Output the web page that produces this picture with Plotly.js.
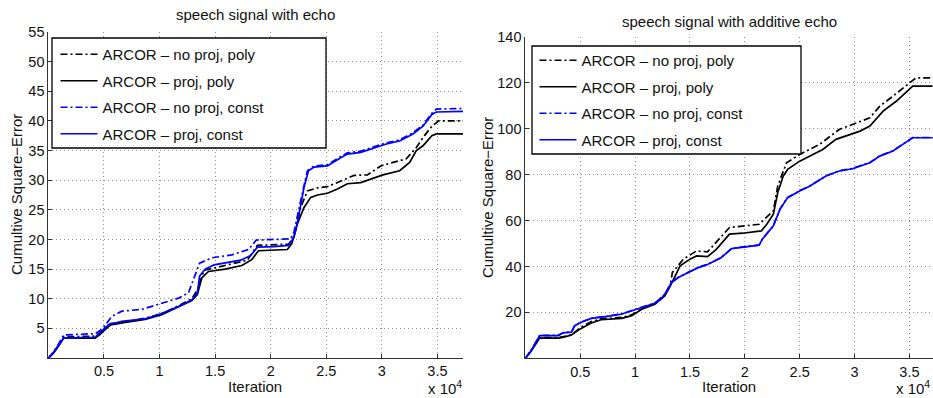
<!DOCTYPE html>
<html>
<head>
<meta charset="utf-8">
<script src="https://cdn.plot.ly/plotly-3.0.1.min.js"></script>
<style>html,body{margin:0;padding:0;background:#fff}#chart{width:933px;height:398px}</style>
</head>
<body>
<div id="chart"></div>
<script>
// ---------- data : left panel "speech signal with echo" ----------
const seriesNames = ["ARCOR \u2013 no proj, poly", "ARCOR \u2013 proj, poly", "ARCOR \u2013 no proj, const", "ARCOR \u2013 proj, const"];
const xTickVals = [5000, 10000, 15000, 20000, 25000, 30000, 35000];
const xTickText = ["0.5", "1", "1.5", "2", "2.5", "3", "3.5"];
const leftYTicks = [5, 10, 15, 20, 25, 30, 35, 40, 45, 50, 55];
const rightYTicks = [20, 40, 60, 80, 100, 120, 140];

const leftNoProjPolyX = [0, 400, 800, 1200, 1380, 2500, 4200, 4800, 5100, 5600, 6900, 8700, 10200, 11700, 12900, 13400, 13800, 14000, 16100, 17900, 18800, 21600, 22100, 22700, 23300, 24200, 25100, 26300, 27500, 28700, 29900, 31000, 32200, 33100, 33700, 34500, 35100, 37300];
const leftNoProjPolyY = [0, 0.8, 1.8, 3.0, 3.6, 3.6, 3.7, 4.5, 5.1, 5.8, 6.1, 6.7, 7.5, 8.8, 10.0, 11.5, 13.7, 14.8, 15.7, 16.5, 19.0, 19.2, 20.4, 25.4, 28.2, 28.7, 28.9, 29.9, 30.8, 30.9, 32.4, 33.0, 33.6, 35.5, 37.2, 39.1, 40.0, 40.0];

const leftProjPolyX = [0, 400, 800, 1200, 1380, 4200, 4600, 5100, 5600, 6900, 8700, 10200, 11700, 12900, 13400, 13800, 14400, 15900, 17400, 18300, 18900, 21500, 21900, 22400, 23000, 23600, 24200, 25100, 26000, 26900, 28100, 29300, 30100, 31600, 32500, 33100, 33700, 34500, 34900, 37300];
const leftProjPolyY = [0, 0.7, 1.7, 2.9, 3.37, 3.37, 3.9, 4.8, 5.6, 6.0, 6.5, 7.3, 8.6, 9.7, 10.7, 13.5, 14.6, 15.0, 15.6, 16.6, 18.1, 18.3, 19.3, 22.6, 25.4, 27.1, 27.5, 27.8, 28.5, 29.4, 29.6, 30.4, 30.9, 31.6, 33.0, 35.0, 35.8, 37.5, 37.8, 37.8];

const leftNoProjConstX = [0, 400, 800, 1200, 1380, 4200, 4800, 5700, 6600, 8400, 10200, 11700, 12600, 13200, 13600, 14700, 16500, 18000, 18700, 21800, 22100, 22700, 23300, 23900, 25100, 26300, 26900, 28100, 29300, 30400, 31600, 32800, 33700, 34500, 34900, 37300];
const leftNoProjConstY = [0, 0.9, 2.0, 3.3, 3.9, 4.1, 4.8, 7.0, 7.9, 8.2, 9.3, 10.1, 11.0, 13.8, 16.0, 16.9, 17.4, 18.3, 19.9, 20.1, 21.3, 26.6, 31.6, 32.4, 32.6, 34.0, 34.6, 34.9, 35.7, 36.3, 36.8, 38.0, 39.3, 41.3, 42.0, 42.1];

const leftProjConstX = [0, 400, 800, 1200, 1380, 4200, 5000, 5400, 6600, 8700, 9900, 11700, 12900, 13400, 13600, 14100, 14900, 16100, 17300, 18200, 18800, 20300, 21600, 22100, 22500, 23000, 23400, 23900, 25100, 26300, 26900, 28100, 29300, 30400, 31600, 32800, 33700, 34500, 34900, 37300];
const leftProjConstY = [0, 0.8, 1.9, 3.0, 3.37, 3.5, 4.8, 5.6, 6.2, 6.6, 7.3, 8.7, 9.8, 11.0, 13.8, 15.0, 15.7, 16.1, 16.5, 17.3, 18.7, 18.8, 19.0, 20.4, 23.8, 28.8, 31.6, 32.2, 32.4, 33.8, 34.4, 34.7, 35.5, 36.1, 36.6, 37.8, 39.1, 41.1, 41.5, 41.6];

// ---------- data : right panel "speech signal with additive echo" ----------
const rightNoProjPolyX = [0, 700, 1300, 3000, 3500, 4200, 5000, 6000, 6900, 8800, 9700, 10600, 11800, 12700, 13200, 13400, 14400, 15600, 16600, 18600, 21300, 22600, 23000, 23800, 25000, 26800, 28600, 30100, 31400, 32300, 33500, 35000, 35600, 37100];
const rightNoProjPolyY = [0, 4.6, 9.0, 9.0, 9.5, 10.2, 13.3, 16.0, 17.2, 17.8, 19.0, 21.6, 24.0, 27.8, 32.0, 37.4, 43.2, 46.8, 46.4, 57.0, 58.4, 64.2, 75.1, 85.2, 88.8, 93.2, 99.7, 102.6, 104.8, 109.9, 114.2, 120.0, 122.2, 122.2];

const rightProjPolyX = [0, 700, 1300, 3000, 3500, 4200, 5000, 6000, 6900, 8800, 9700, 10600, 11800, 12700, 13200, 13500, 14100, 15000, 15600, 16600, 17400, 18600, 19800, 21500, 22000, 22600, 23000, 23500, 23900, 25000, 25900, 27100, 28300, 29500, 30500, 31400, 32600, 33800, 35300, 37100];
const rightProjPolyY = [0, 4.4, 8.8, 8.8, 9.2, 10.2, 12.8, 15.4, 16.8, 17.4, 18.6, 21.4, 23.6, 27.2, 31.5, 34.5, 40.3, 43.2, 44.6, 44.3, 47.5, 54.1, 54.5, 55.5, 58.4, 62.8, 72.2, 79.4, 82.3, 85.9, 88.1, 91.0, 95.4, 97.5, 99.0, 101.2, 107.7, 112.0, 118.6, 118.6];

const rightNoProjConstX = [0, 500, 700, 1300, 3000, 3450, 4200, 4500, 5100, 6000, 7500, 8800, 9700, 10600, 11800, 12400, 12800, 13300, 13900, 14800, 15700, 16600, 17800, 18800, 21300, 21600, 22600, 23200, 23900, 25000, 25900, 27400, 28600, 29800, 31400, 32300, 33500, 34400, 35300, 37100];
const rightNoProjConstY = [0, 3.1, 5.0, 10.0, 10.0, 11.2, 11.5, 14.3, 15.8, 17.5, 18.4, 19.4, 20.8, 22.3, 24.1, 26.1, 28.7, 33.0, 35.2, 37.4, 39.5, 41.0, 43.8, 47.9, 49.4, 52.0, 57.8, 65.0, 70.1, 73.0, 75.1, 79.5, 81.7, 82.7, 85.3, 88.2, 90.4, 93.3, 96.2, 96.2];

const rightProjConstX = [0, 500, 700, 1300, 3000, 3450, 4200, 4500, 5100, 6000, 7500, 8800, 9700, 10600, 11800, 12400, 12800, 13300, 13900, 14800, 15700, 16600, 17800, 18800, 21300, 21600, 22600, 23200, 23900, 25000, 25900, 27400, 28600, 29800, 31400, 32300, 33500, 34400, 35300, 37100];
const rightProjConstY = [0, 3.0, 4.9, 9.9, 9.9, 11.1, 11.4, 14.2, 15.7, 17.4, 18.3, 19.3, 20.7, 22.2, 24.0, 26.0, 28.6, 32.9, 35.1, 37.3, 39.4, 40.9, 43.7, 47.8, 49.3, 51.9, 57.7, 64.9, 70.0, 72.9, 75.0, 79.4, 81.6, 82.6, 85.2, 88.1, 90.3, 93.2, 96.1, 96.1];

// ---------- styling ----------
const W = 933, H = 398;
const FONT = "Liberation Sans, Arial, Helvetica, sans-serif";
const DASHDOT = "7px,3px,2px,3px";
const styles = [
  {color: "#000000", dash: DASHDOT},
  {color: "#000000", dash: "solid"},
  {color: "#0000ff", dash: DASHDOT},
  {color: "#0000ff", dash: "solid"}
];
const px = v => v / W, py = v => 1 - v / H;

function mk(x, y, i, side) {
  return {
    x: x, y: y, type: "scatter", mode: "lines", name: seriesNames[i],
    line: {color: styles[i].color, dash: styles[i].dash, width: 1.7},
    xaxis: side === 0 ? "x" : "x2", yaxis: side === 0 ? "y" : "y2",
    legend: side === 0 ? "legend" : "legend2",
    legendgroup: "g" + side + "_" + i, showlegend: true
  };
}
const data = [
  mk(leftNoProjPolyX, leftNoProjPolyY, 0, 0),
  mk(leftProjPolyX, leftProjPolyY, 1, 0),
  mk(leftNoProjConstX, leftNoProjConstY, 2, 0),
  mk(leftProjConstX, leftProjConstY, 3, 0),
  mk(rightNoProjPolyX, rightNoProjPolyY, 0, 1),
  mk(rightProjPolyX, rightProjPolyY, 1, 1),
  mk(rightNoProjConstX, rightNoProjConstY, 2, 1),
  mk(rightProjConstX, rightProjConstY, 3, 1)
];

const axCommon = {
  showline: true, linecolor: "#333", linewidth: 1, mirror: false,
  ticks: "inside", ticklen: 4, tickcolor: "#333", tickwidth: 1,
  showgrid: true, gridcolor: "#8c8c8c", griddash: "1px,3px", gridwidth: 1,
  zeroline: false, automargin: false, fixedrange: true,
  tickfont: {family: FONT, size: 14.5, color: "#111"}
};
const legCommon = {
  bgcolor: "rgba(0,0,0,0)", borderwidth: 0, xanchor: "left", yanchor: "top",
  font: {family: FONT, size: 15, color: "#111"}, tracegroupgap: 4, itemwidth: 37,
  traceorder: "grouped"
};
const ann = (text, x, y, opts) => Object.assign({
  text: text, x: x, y: y, xref: "paper", yref: "paper", showarrow: false,
  xanchor: "center", yanchor: "middle", font: {family: FONT, size: 15, color: "#111"}
}, opts || {});

const layout = {
  width: W, height: H, margin: {l: 0, r: 0, t: 0, b: 0},
  paper_bgcolor: "#fff", plot_bgcolor: "#fff", showlegend: true,
  font: {family: FONT, size: 15, color: "#111"},
  xaxis: Object.assign({}, axCommon, {domain: [px(48.4), px(463)], range: [0, 37300], tickvals: xTickVals, ticktext: xTickText, anchor: "y"}),
  yaxis: Object.assign({}, axCommon, {domain: [py(358), py(32)], range: [0, 55], tickvals: leftYTicks, anchor: "x"}),
  xaxis2: Object.assign({}, axCommon, {domain: [px(525.4), px(933)], range: [0, 37150], tickvals: xTickVals, ticktext: xTickText, anchor: "y2"}),
  yaxis2: Object.assign({}, axCommon, {domain: [py(358.3), py(37)], range: [0, 140], tickvals: rightYTicks, anchor: "x2"}),
  legend: Object.assign({}, legCommon, {x: px(55.5), y: py(38)}),
  legend2: Object.assign({}, legCommon, {x: px(534.5), y: py(44)}),
  shapes: [
    {type: "rect", xref: "paper", yref: "paper", x0: px(52), x1: px(326), y0: py(148), y1: py(38), fillcolor: "#fff", line: {color: "#000", width: 1.3}, layer: "above"},
    {type: "rect", xref: "paper", yref: "paper", x0: px(532), x1: px(801), y0: py(154), y1: py(46), fillcolor: "#fff", line: {color: "#000", width: 1.3}, layer: "above"}
  ],
  annotations: [
    ann("speech signal with echo", px(255), py(15)),
    ann("speech signal with additive echo", px(729), py(21.5)),
    ann("Iteration", px(255), py(386)),
    ann("Iteration", px(729), py(386)),
    ann("Cumultive Square\u2212Error", px(17), py(195), {textangle: -90}),
    ann("Cumultive Square\u2212Error", px(487), py(197), {textangle: -90}),
    ann("x 10<sup>4</sup>", px(464), py(387), {xanchor: "right"}),
    ann("x 10<sup>4</sup>", px(932), py(387), {xanchor: "right"})
  ]
};

Plotly.newPlot("chart", data, layout, {displayModeBar: false, staticPlot: true});
</script>
</body>
</html>
